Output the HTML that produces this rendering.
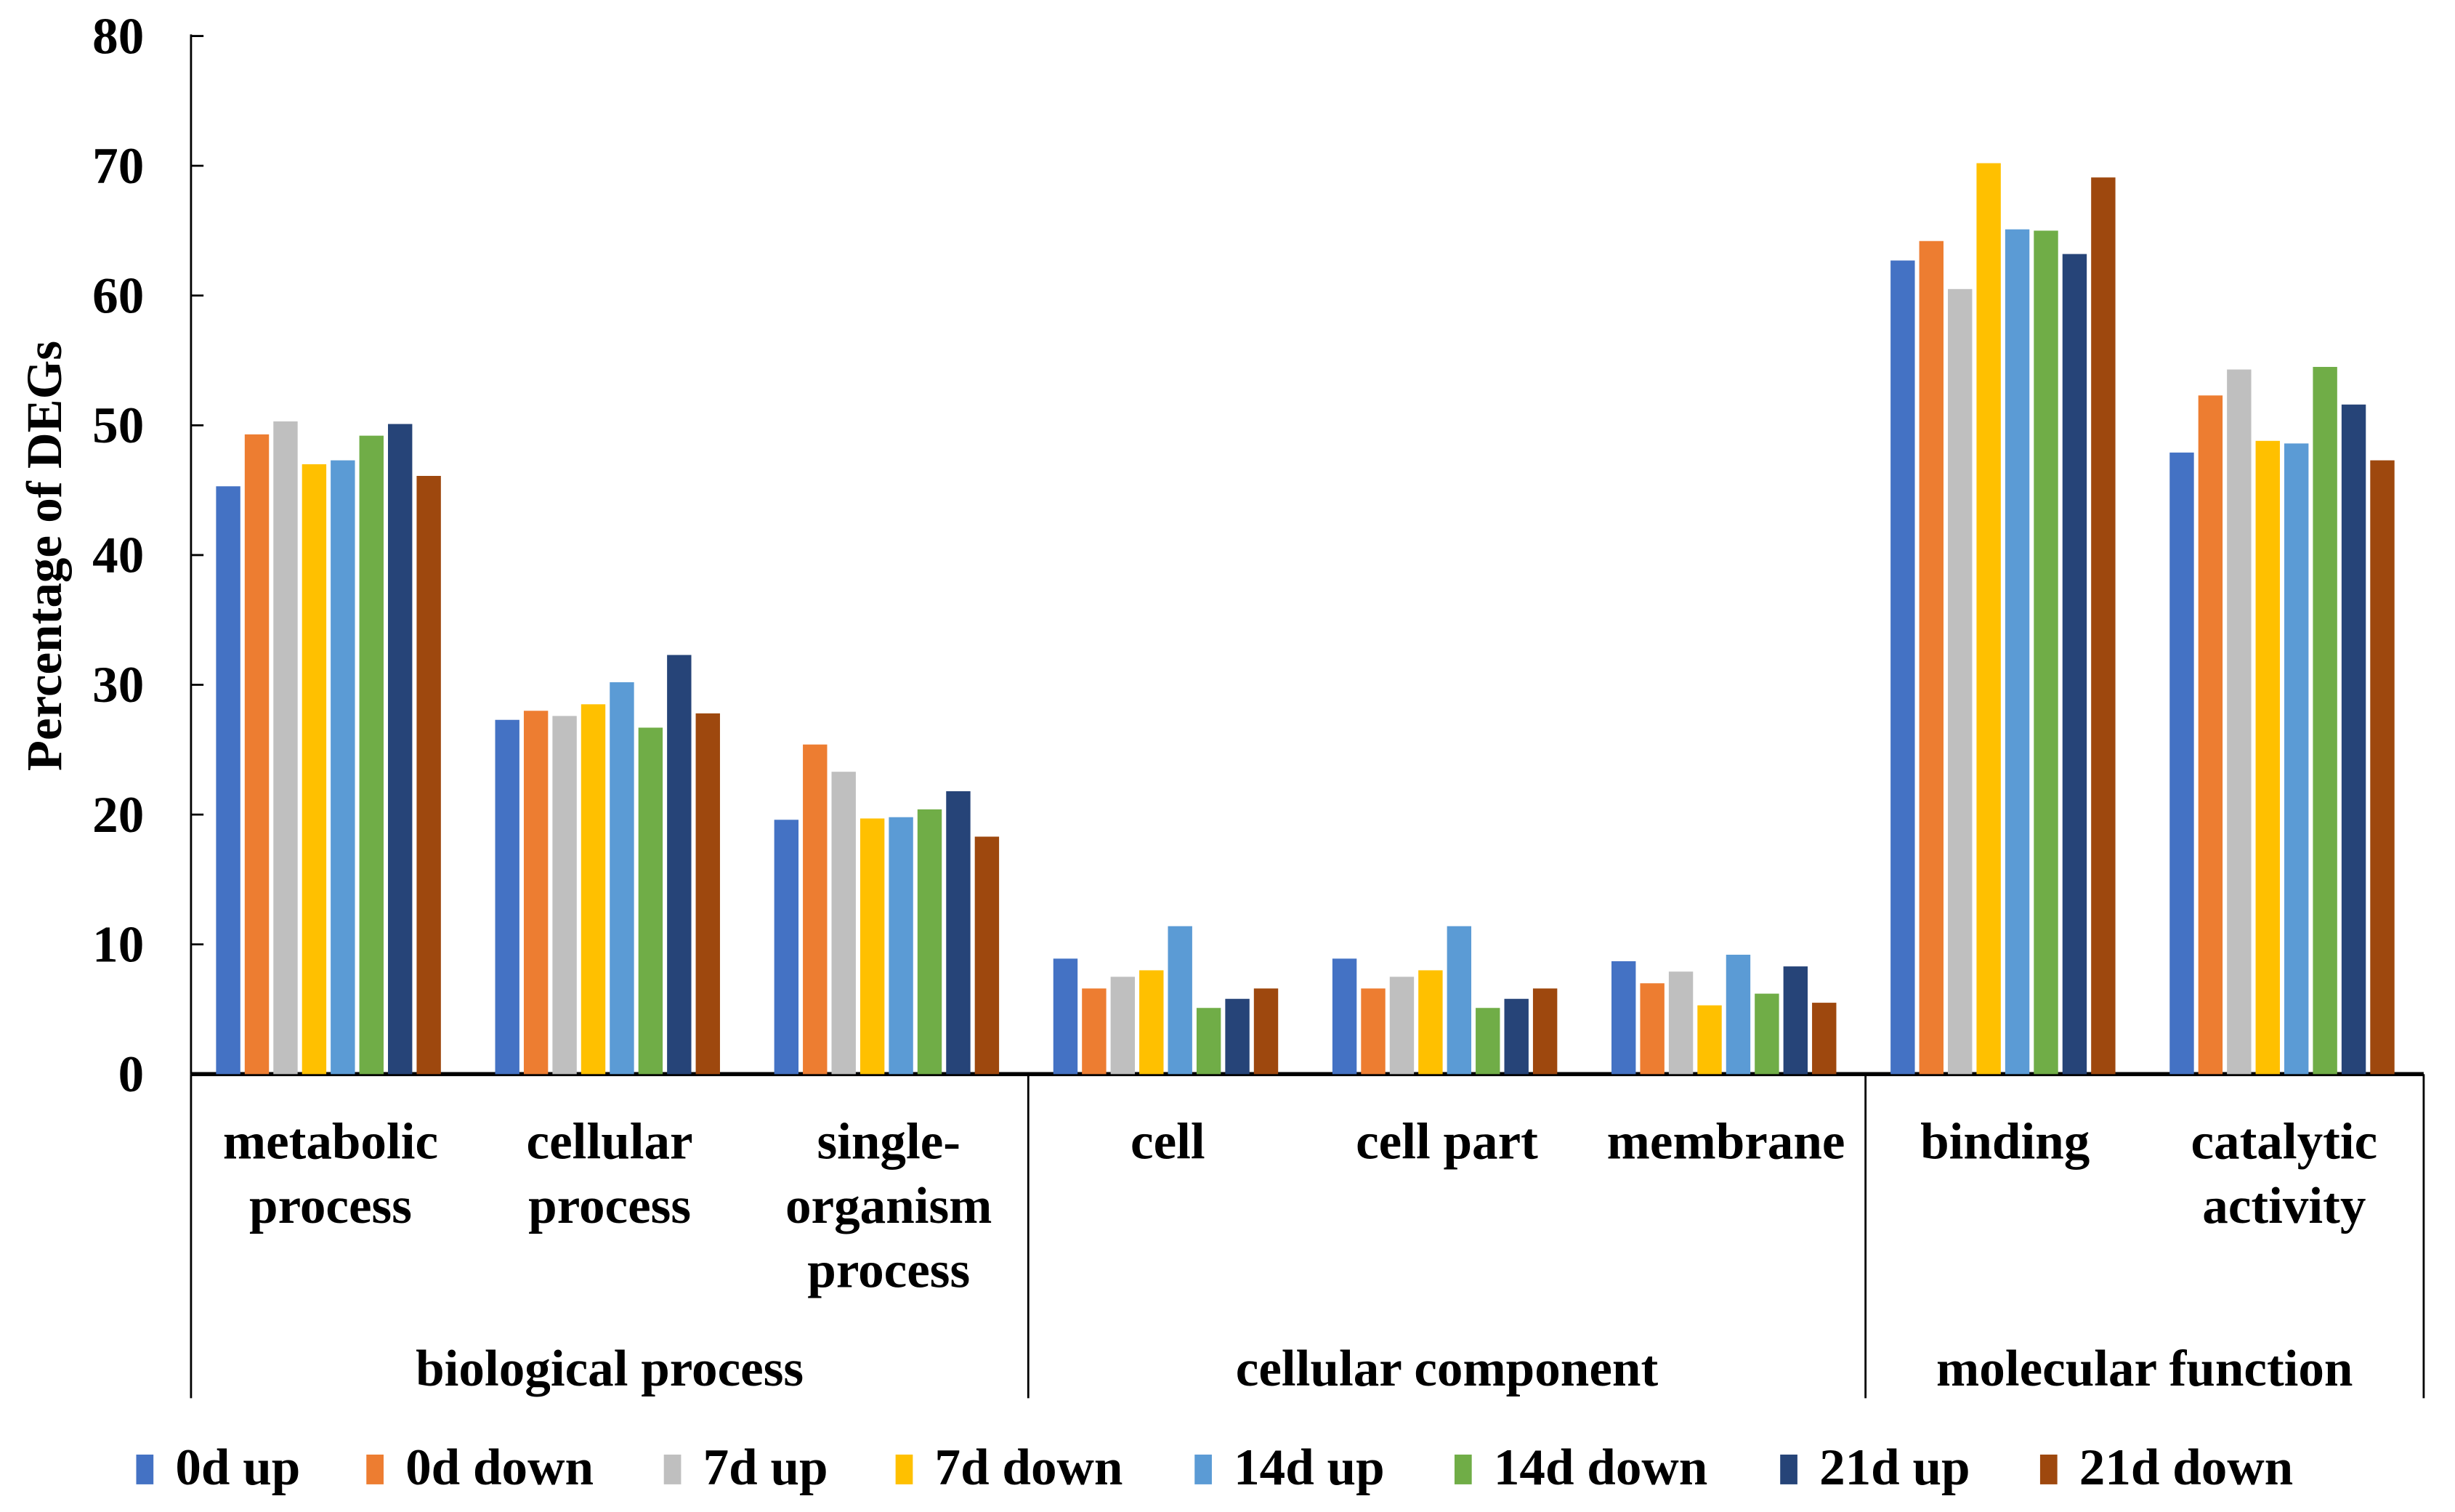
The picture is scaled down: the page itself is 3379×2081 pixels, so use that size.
<!DOCTYPE html>
<html><head><meta charset="utf-8"><style>
html,body{margin:0;padding:0;background:#fff;}
svg{display:block;}
svg text{font-family:"Liberation Serif","Times New Roman",Times,serif !important;font-weight:700;fill:#000;}
</style></head><body>
<svg id="chart" width="3379" height="2081" viewBox="0 0 1568 965.67" preserveAspectRatio="none" xmlns="http://www.w3.org/2000/svg" font-family="Liberation Serif, serif">
<g id="axes"></g>
<g id="bars"></g>
<g id="labels"></g>
<g id="legend"></g>
</svg>
<script>
const categories = [["metabolic","process"],["cellular","process"],["single-","organism","process"],["cell"],["cell part"],["membrane"],["binding"],["catalytic","activity"]];
const groups = ["biological process","cellular component","molecular function"];
const groupSpans = [[0,3],[3,6],[6,8]];
const seriesNames = ["0d up","0d down","7d up","7d down","14d up","14d down","21d up","21d down"];
const seriesColors = ["#4472C4","#ED7D31","#BFBFBF","#FFC000","#5B9BD5","#70AD47","#264478","#9E480E"];
const s0dUp    = [45.3,27.3,19.6,8.9,8.9,8.7,62.7,47.9];
const s0dDown  = [49.3,28.0,25.4,6.6,6.6,7.0,64.2,52.3];
const s7dUp    = [50.3,27.6,23.3,7.5,7.5,7.9,60.5,54.3];
const s7dDown  = [47.0,28.5,19.7,8.0,8.0,5.3,70.2,48.8];
const s14dUp   = [47.3,30.2,19.8,11.4,11.4,9.2,65.1,48.6];
const s14dDown = [49.2,26.7,20.4,5.1,5.1,6.2,65.0,54.5];
const s21dUp   = [50.1,32.3,21.8,5.8,5.8,8.3,63.2,51.6];
const s21dDown = [46.1,27.8,18.3,6.6,6.6,5.5,69.1,47.3];
const yTicks = [0,10,20,30,40,50,60,70,80];

const series = [s0dUp,s0dDown,s7dUp,s7dDown,s14dUp,s14dDown,s21dUp,s21dDown];
const NS="http://www.w3.org/2000/svg";
const X0=122, X1=1548, Y0=686, Y80=23;
const catW=(X1-X0)/categories.length;
const yScale=v=>Y0-(v/80)*(Y0-Y80);
const xCat=i=>X0+i*catW;
const FF="Liberation Serif, Times New Roman, serif";
function mk(tag,attrs,parent,text){const e=document.createElementNS(NS,tag);for(const k in attrs)e.setAttribute(k,attrs[k]);if(tag==='text'){e.setAttribute('font-family',FF);e.setAttribute('font-weight','bold');}if(text!==undefined)e.textContent=text;parent.appendChild(e);return e;}
const axes=document.getElementById('axes'),bars=document.getElementById('bars'),labels=document.getElementById('labels'),legend=document.getElementById('legend');

let el=mk('line',{x1:X0,y1:Y80-1,x2:X0,y2:Y0,stroke:'#000','stroke-width':1.3},axes);


yTicks.forEach(t=>{
  const y=yScale(t);
  let tk=mk('line',{x1:X0,y1:y,x2:X0+8,y2:y,stroke:'#000','stroke-width':1.3},axes);
  
  
  let tl=mk('text',{x:92,y:y+11,'text-anchor':'end','font-size':33},axes,String(t));
  
  
});
el=mk('text',{x:0,y:0,'text-anchor':'middle','font-size':32,transform:'translate(39,355) rotate(-90)'},axes,'Percentage of DEGs');


el=mk('line',{x1:X0,y1:Y0,x2:X1,y2:Y0,stroke:'#000','stroke-width':2.6},axes);


[0,3,6,8].forEach(i=>{
  let s=mk('line',{x1:xCat(i),y1:Y0,x2:xCat(i),y2:893,stroke:'#000','stroke-width':1.3},axes);
  
  
});

const slot=18.3, bw=15.5, off=16;
series.forEach((vals,si)=>{
  vals.forEach((v,ci)=>{
    const x=xCat(ci)+off+si*slot;
    const y=yScale(v);
    let r=mk('rect',{x:x,y:y,width:bw,height:Y0-y,fill:seriesColors[si]},bars);
    
    
  });
});

categories.forEach((lines,ci)=>{
  const cx=xCat(ci)+catW/2;
  lines.forEach((ln,li)=>{
    let t=mk('text',{x:cx,y:740+li*41,'text-anchor':'middle','font-size':33},labels,ln);
    
    
  });
});
groups.forEach((g,gi)=>{
  const cx=(xCat(groupSpans[gi][0])+xCat(groupSpans[gi][1]))/2;
  let t=mk('text',{x:cx,y:885,'text-anchor':'middle','font-size':33},labels,g);
  
  
});

const legX=[87,234,424,572,763,929,1137,1303];
seriesNames.forEach((n,i)=>{
  let r=mk('rect',{x:legX[i],y:929,width:11,height:19,fill:seriesColors[i]},legend);
  
  
  let t=mk('text',{x:legX[i]+25,y:948,'font-size':33},legend,n);
  
  
});
</script>
</body></html>
